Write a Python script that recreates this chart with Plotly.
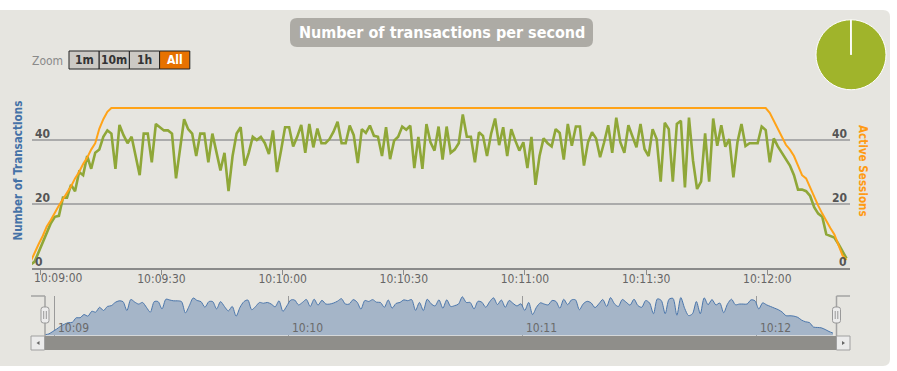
import plotly.graph_objects as go
import pandas as pd

W, H = 897, 371


def X(px):
    return px / W


def Y(py):
    return 1 - py / H


# ---------------- data ----------------
DAY = "2013-05-14"
start_time = DAY + " 10:08:57.6"

transactions = [
    1, 2, 5, 8, 11.5, 14, 16, 16.3, 22, 22,
    26, 24, 30, 29, 35, 31, 36, 37, 41, 43,
    42, 31, 44.7, 41.5, 39, 41, 35, 29, 42, 42,
    33, 45, 44, 43, 43, 42, 28, 37, 46.5, 43.4,
    42, 35, 42, 42, 33, 42, 36, 30.5, 36, 24,
    35, 42, 44, 32, 36, 41, 40, 41, 39, 35.6,
    43, 30, 36.7, 44, 44, 38, 41, 44.7, 36, 45,
    37.7, 43.6, 39, 39, 40.3, 42.6, 45.7, 39, 39, 44.5,
    41.5, 32.8, 43.4, 42.2, 44.5, 41.3, 41, 35, 44, 34,
    39.8, 41, 44.2, 43.2, 44.5, 31.2, 41, 31, 45, 39.3,
    36.7, 44.2, 33.9, 44.2, 36, 37, 39, 48, 41, 41,
    33, 42.4, 41.3, 35, 41.9, 46.7, 38.4, 44, 35, 43.4,
    39.8, 36.7, 39.3, 31.2, 41, 26, 35, 40.5, 39, 38,
    43.4, 42.2, 33.9, 45, 38.2, 44.2, 44.2, 32, 39.3, 42.4,
    40.5, 34.6, 39.3, 44.6, 36, 47, 39.3, 36, 44.6, 41.3,
    37.7, 45, 37.2, 35, 43.4, 40.3, 27, 45.4, 43.4, 27,
    45, 46, 25.2, 47, 33.6, 24.7, 27, 42.1, 27, 46.7,
    38.2, 44.6, 37.9, 40.3, 28.3, 39.3, 45, 38.1, 39, 39,
    39, 44.2, 43.1, 33, 40.5, 38, 36, 34, 32, 29,
    24.5, 24.5, 24, 22.5, 19, 17, 16, 10.5, 10, 9.5,
    7.5, 5, 3,
]

sessions_rampup = [2, 5, 7.5, 10, 13, 15, 17.5, 19.5, 21.5, 23.5, 25.5,
                   28, 30, 32.5, 34.5, 37, 39, 43.5, 46.5, 48.8]
sessions_plateau = [50] * 163
sessions_rampdown = [48.5, 46, 43, 41, 38.5, 37, 35, 32, 29, 28,
                     25, 22, 19.5, 17, 14.5, 12.5, 10.5, 7, 4, 2.5]
active_sessions = sessions_rampup + sessions_plateau + sessions_rampdown
active_sessions = active_sessions[:len(transactions)]

times = pd.date_range(start_time, periods=len(transactions), freq="1s")

x_tick_labels = ["10:09:00", "10:09:30", "10:10:00", "10:10:30",
                 "10:11:00", "10:11:30", "10:12:00"]
nav_tick_labels = ["10:09", "10:10", "10:11", "10:12"]
y_tick_values = [0, 20, 40]
zoom_buttons = ["1m", "10m", "1h", "All"]
selected_button = "All"
chart_title = "Number of transactions per second"
left_title = "Number of Transactions"
right_title = "Active Sessions"
pie_values = [99.9, 0.1]

# ---------------- style ----------------
FONT = "DejaVu Sans Condensed, DejaVu Sans, sans-serif"
PANEL = "#e6e5e0"
GREEN = "#8fa738"
ORANGE = "#ffa318"
GRID = "#ababab"
TICKFONT = dict(family=FONT, size=12, color="#666666")


def rrect(x0, y0, x1, y1, r, left=True, right=True):
    """rounded rectangle path in paper coords from pixel coords"""
    rl = r if left else 0
    rr = r if right else 0
    p = []
    p.append(f"M{X(x0 + rl)},{Y(y0)}")
    p.append(f"L{X(x1 - rr)},{Y(y0)}")
    p.append(f"Q{X(x1)},{Y(y0)} {X(x1)},{Y(y0 + rr)}")
    p.append(f"L{X(x1)},{Y(y1 - rr)}")
    p.append(f"Q{X(x1)},{Y(y1)} {X(x1 - rr)},{Y(y1)}")
    p.append(f"L{X(x0 + rl)},{Y(y1)}")
    p.append(f"Q{X(x0)},{Y(y1)} {X(x0)},{Y(y1 - rl)}")
    p.append(f"L{X(x0)},{Y(y0 + rl)}")
    p.append(f"Q{X(x0)},{Y(y0)} {X(x0 + rl)},{Y(y0)}")
    p.append("Z")
    return " ".join(p)


fig = go.Figure()

# main series
fig.add_trace(go.Scatter(x=times, y=transactions, mode="lines",
                         line=dict(color=GREEN, width=2.6),
                         xaxis="x", yaxis="y", showlegend=False,
                         name="Transactions"))
fig.add_trace(go.Scatter(x=times, y=active_sessions, mode="lines",
                         line=dict(color=ORANGE, width=2),
                         xaxis="x", yaxis="y2", showlegend=False,
                         name="Active Sessions"))
# navigator series
fig.add_trace(go.Scatter(x=times, y=transactions, mode="lines",
                         line=dict(color="#4b76ab", width=1, shape="spline",
                                   smoothing=0.8),
                         fill="tozeroy", fillcolor="#a5b5c8",
                         xaxis="x2", yaxis="y3", showlegend=False,
                         hoverinfo="skip"))
# pie
fig.add_trace(go.Pie(values=pie_values, sort=False, direction="clockwise",
                     rotation=0, textinfo="none", hoverinfo="skip",
                     marker=dict(colors=["#a0b42b", "#ffffff"],
                                 line=dict(color="#ffffff", width=1)),
                     domain=dict(x=[X(816), X(886)], y=[Y(90), Y(19.5)]),
                     showlegend=False))

shapes = []
# panel background
shapes.append(dict(type="path", path=rrect(-10, 10, 890, 366, 7),
                   xref="paper", yref="paper", fillcolor=PANEL,
                   line=dict(width=0), layer="below"))
# title box
shapes.append(dict(type="path", path=rrect(290, 18, 593, 47, 7),
                   xref="paper", yref="paper", fillcolor="#adaba5",
                   line=dict(width=0), layer="below"))

# zoom buttons
bx0, bw, by0, by1 = 69, 30.2, 51, 69
annotations = []
for i, lab in enumerate(zoom_buttons):
    x0 = bx0 + i * bw
    sel = lab == selected_button
    shapes.append(dict(type="rect", xref="paper", yref="paper",
                       x0=X(x0), x1=X(x0 + bw), y0=Y(by1), y1=Y(by0),
                       fillcolor="#e77200" if sel else "#ccc9c4",
                       line=dict(color="#222222", width=1), layer="above"))
    annotations.append(dict(text=lab, xref="paper", yref="paper",
                            x=X(x0 + bw / 2), y=Y((by0 + by1) / 2),
                            xanchor="center", yanchor="middle", showarrow=False,
                            font=dict(family=FONT, size=12, weight="bold",
                                      color="#ffffff" if sel else "#333333")))
annotations.append(dict(text="Zoom", xref="paper", yref="paper", x=X(30),
                        y=Y(61), xanchor="left", yanchor="middle",
                        showarrow=False,
                        font=dict(family=FONT, size=12, color="#8a8a8a")))

# title
annotations.append(dict(text=chart_title, xref="paper", yref="paper",
                        x=X(441.5), y=Y(32.5), xanchor="center",
                        yanchor="middle", showarrow=False,
                        font=dict(family=FONT, size=16, weight="bold",
                                  color="#ffffff")))

# axis titles
annotations.append(dict(text=left_title, xref="paper", yref="paper",
                        x=X(17), y=Y(170.5), textangle=-90, showarrow=False,
                        xanchor="center", yanchor="middle",
                        font=dict(family=FONT, size=11.6, weight="bold",
                                  color="#4572a7")))
annotations.append(dict(text=right_title, xref="paper", yref="paper",
                        x=X(863), y=Y(171), textangle=90, showarrow=False,
                        xanchor="center", yanchor="middle",
                        font=dict(family=FONT, size=11.6, weight="bold",
                                  color="#ff9a14")))

# first x tick label is justified inside the plot (as in the original)
annotations.append(dict(text=x_tick_labels[0], xref="paper", yref="paper",
                        x=X(32), y=Y(278), xanchor="left", yanchor="middle",
                        showarrow=False, font=TICKFONT))

# y tick labels (inside plot, above gridlines)
for v in y_tick_values:
    annotations.append(dict(text=str(v), xref="paper", yref="y", x=X(33), y=v,
                            xanchor="left", yanchor="middle", yshift=6,
                            showarrow=False,
                            font=dict(family=FONT, size=12, weight="bold",
                                      color="#555555")))
    annotations.append(dict(text=str(v), xref="paper", yref="y2", x=X(849),
                            y=v, xanchor="right", yanchor="middle", yshift=6,
                            showarrow=False,
                            font=dict(family=FONT, size=12, weight="bold",
                                      color="#555555")))

# navigator labels
for lab in nav_tick_labels:
    annotations.append(dict(text=lab, xref="x2", yref="paper",
                            x=f"{DAY} {lab}:00", y=Y(328), xanchor="left",
                            yanchor="middle", xshift=2, showarrow=False,
                            font=dict(family=FONT, size=12, color="#6a6a6a")))

# navigator outline
outline = "#a3a3a3"
for seg in [((31, 296), (45, 296)), ((45, 296), (45, 336)),
            ((836.5, 296), (850, 296)), ((836.5, 296), (836.5, 336))]:
    (ax0, ay0), (ax1, ay1) = seg
    shapes.append(dict(type="line", xref="paper", yref="paper",
                       x0=X(ax0), y0=Y(ay0), x1=X(ax1), y1=Y(ay1),
                       line=dict(color=outline, width=1.5), layer="above"))
# scrollbar
shapes.append(dict(type="rect", xref="paper", yref="paper",
                   x0=X(45), x1=X(836.5), y0=Y(350), y1=Y(336),
                   fillcolor="#8f8e8a", line=dict(width=0), layer="above"))
for bxa in (31, 836.5):
    shapes.append(dict(type="rect", xref="paper", yref="paper",
                       x0=X(bxa), x1=X(bxa + 13.5), y0=Y(350), y1=Y(336),
                       fillcolor="#ebebeb", line=dict(color="#a0a0a0", width=1),
                       layer="above"))
# scroll arrows
shapes.append(dict(type="path", xref="paper", yref="paper",
                   path=f"M{X(39.5)},{Y(341)} L{X(36.5)},{Y(343)} L{X(39.5)},{Y(345)} Z",
                   fillcolor="#666666", line=dict(width=0), layer="above"))
shapes.append(dict(type="path", xref="paper", yref="paper",
                   path=f"M{X(842)},{Y(341)} L{X(845)},{Y(343)} L{X(842)},{Y(345)} Z",
                   fillcolor="#666666", line=dict(width=0), layer="above"))
# handles
for hx in (45, 836.5):
    shapes.append(dict(type="path", xref="paper", yref="paper",
                       path=rrect(hx - 4, 307, hx + 4, 323, 2.5),
                       fillcolor="#ececec", line=dict(color="#999999", width=1),
                       layer="above"))
    for dx in (-1.3, 1.3):
        shapes.append(dict(type="line", xref="paper", yref="paper",
                           x0=X(hx + dx), x1=X(hx + dx), y0=Y(311), y1=Y(319),
                           line=dict(color="#999999", width=1), layer="above"))

fig.update_layout(
    width=W, height=H,
    margin=dict(l=0, r=0, t=0, b=0, pad=0, autoexpand=False),
    paper_bgcolor="#ffffff", plot_bgcolor="rgba(0,0,0,0)",
    shapes=shapes, annotations=annotations,
    xaxis=dict(domain=[X(32), X(850)],
               range=[f"{DAY} 10:08:57.94", f"{DAY} 10:12:20.47"],
               type="date", anchor="y", automargin=False,
               tickvals=[f"{DAY} {t}" for t in x_tick_labels],
               ticktext=[""] + x_tick_labels[1:],
               ticks="outside", ticklen=5, tickcolor="#8a8a8a", tickwidth=1,
               ticklabelstandoff=-6,
               showgrid=False, showline=True, linecolor="#8a8a8a", linewidth=2,
               zeroline=False, tickfont=TICKFONT),
    yaxis=dict(domain=[Y(268), Y(76)], range=[0, 60], anchor="x",
               automargin=False,
               tickvals=[0, 20, 40, 60], showticklabels=False,
               showgrid=True, gridcolor=GRID, gridwidth=2, zeroline=False,
               showline=False, ticks=""),
    yaxis2=dict(domain=[Y(268), Y(76)], range=[0, 60], overlaying="y",
                side="right", anchor="x", showgrid=False, showticklabels=False,
                zeroline=False, showline=False, ticks="", automargin=False),
    xaxis2=dict(domain=[X(45), X(833.3)],
                range=[f"{DAY} 10:08:57.6", f"{DAY} 10:12:19.7"],
                type="date", anchor="y3", automargin=False,
                tickvals=[f"{DAY} {t}:00" for t in nav_tick_labels],
                showticklabels=False, ticks="", showgrid=True,
                gridcolor="#9a9a9a", gridwidth=1, zeroline=False,
                showline=False),
    yaxis3=dict(domain=[Y(335.5), Y(296)], range=[0, 49], anchor="x2",
                showgrid=False, showticklabels=False, zeroline=False,
                showline=False, ticks="", automargin=False),
)

fig.write_html("out.html")
